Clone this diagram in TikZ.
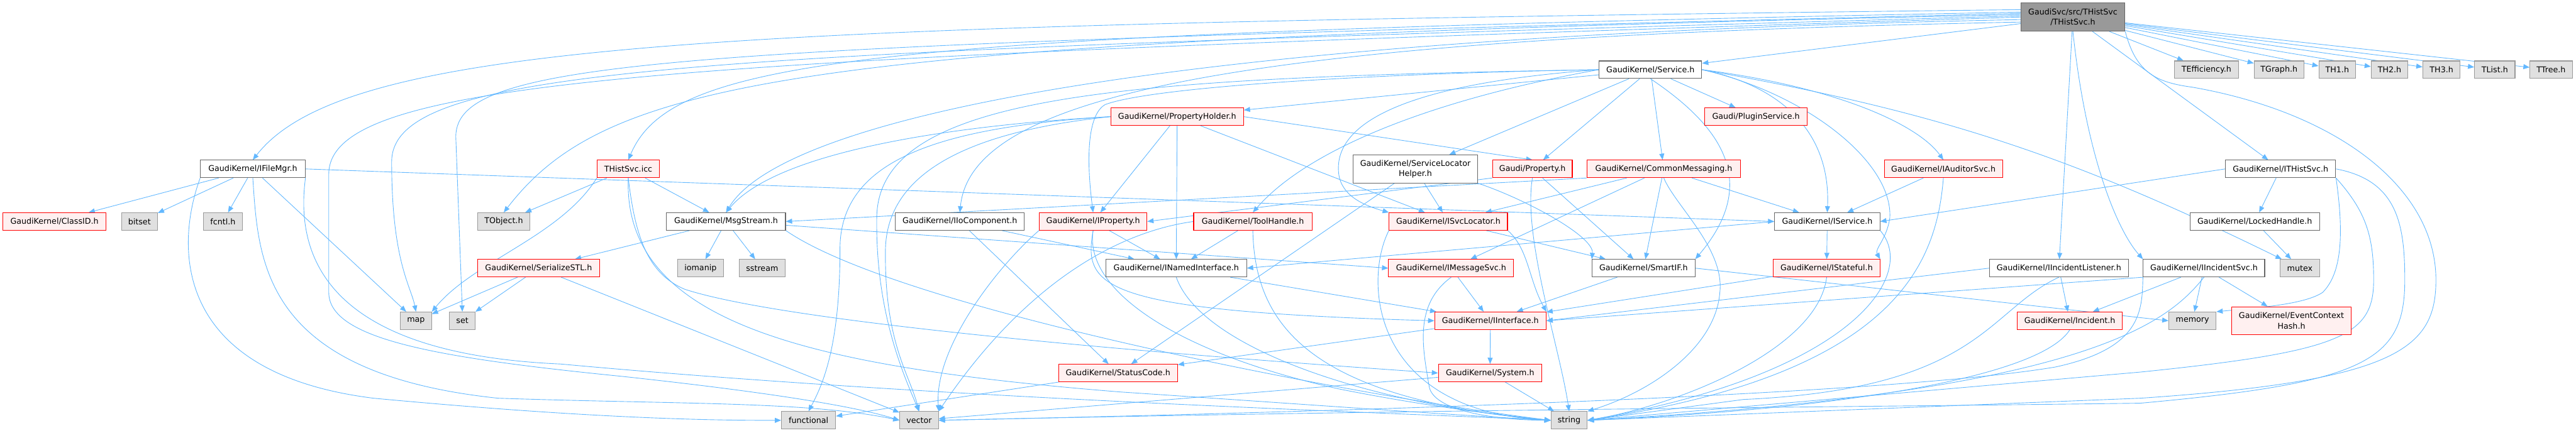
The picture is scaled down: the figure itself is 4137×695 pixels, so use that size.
\documentclass[tikz,border=0pt]{standalone}
\usepackage{fontspec}
\setmainfont{DejaVu Sans}
\usetikzlibrary{arrows.meta}
\definecolor{edgec}{HTML}{63B8FF}
\definecolor{redb}{HTML}{FF0000}
\definecolor{redf}{HTML}{FFF0F0}
\definecolor{grayf}{HTML}{E0E0E0}
\definecolor{grayb}{HTML}{999999}
\definecolor{normb}{HTML}{666666}
\pgfdeclarelayer{bg}
\pgfsetlayers{bg,main}
\tikzset{
  nd/.style={draw=normb, fill=white, line width=1.1pt, minimum height=28pt, inner sep=0pt, align=center, font=\fontsize{12.8}{16.7}\selectfont},
  rd/.style={nd, draw=redb, fill=redf},
  gd/.style={nd, draw=grayb, fill=grayf},
  rootnd/.style={nd, fill=grayb, draw=normb, minimum height=45pt},
  edg/.style={draw=edgec, line width=0.9pt, -{Triangle[length=10pt,width=8pt]}},
}
\begin{document}
\begin{tikzpicture}[x=1pt,y=-1pt]
\useasboundingbox (0,0) rectangle (4137,695);
% nodes
\node[rootnd, minimum width=167pt] (root) at (3329,27.5) {GaudiSvc/src/THistSvc\\/THistSvc.h};
\node[nd, minimum width=165pt] (svc) at (2650.5,112) {GaudiKernel/Service.h};
\node[gd, minimum width=103pt] (teff) at (3543.5,112) {TEfficiency.h};
\node[gd, minimum width=80pt] (tgraph) at (3660,112) {TGraph.h};
\node[gd, minimum width=59pt] (th1) at (3753.5,112) {TH1.h};
\node[gd, minimum width=59pt] (th2) at (3837.5,112) {TH2.h};
\node[gd, minimum width=60pt] (th3) at (3921,112) {TH3.h};
\node[gd, minimum width=65pt] (tlist) at (4006.5,112) {TList.h};
\node[gd, minimum width=68pt] (ttree) at (4097,112) {TTree.h};
\node[rd, minimum width=213pt] (ph) at (1890.5,187.5) {GaudiKernel/PropertyHolder.h};
\node[rd, minimum width=164pt] (plugin) at (2820,187.5) {Gaudi/PluginService.h};
\node[nd, minimum width=168pt] (ifm) at (406,271.5) {GaudiKernel/IFileMgr.h};
\node[rd, minimum width=100pt] (icc) at (1009,271.5) {THistSvc.icc};
\node[nd, minimum width=200pt, minimum height=45pt] (slh) at (2273,271.5) {GaudiKernel/ServiceLocator\\Helper.h};
\node[rd, minimum width=128pt] (gprop) at (2461,271.5) {Gaudi/Property.h};
\node[rd, minimum width=246pt] (cm) at (2672,271.5) {GaudiKernel/CommonMessaging.h};
\node[rd, minimum width=190pt] (aud) at (3121,271.5) {GaudiKernel/IAuditorSvc.h};
\node[nd, minimum width=177pt] (ith) at (3662.5,271.5) {GaudiKernel/ITHistSvc.h};
\node[rd, minimum width=166pt] (classid) at (87.5,356) {GaudiKernel/ClassID.h};
\node[gd, minimum width=58pt] (bitset) at (224,356) {bitset};
\node[gd, minimum width=63pt] (fcntl) at (358,356) {fcntl.h};
\node[gd, minimum width=84pt] (tobj) at (809,356) {TObject.h};
\node[nd, minimum width=191pt] (msg) at (1166,356) {GaudiKernel/MsgStream.h};
\node[nd, minimum width=207pt] (iio) at (1541.5,356) {GaudiKernel/IIoComponent.h};
\node[rd, minimum width=173pt] (iprop) at (1755.5,356) {GaudiKernel/IProperty.h};
\node[rd, minimum width=190pt] (tool) at (2012,356) {GaudiKernel/ToolHandle.h};
\node[rd, minimum width=190pt] (isl) at (2326,356) {GaudiKernel/ISvcLocator.h};
\node[nd, minimum width=169pt] (isvc) at (2934.5,356) {GaudiKernel/IService.h};
\node[nd, minimum width=208pt] (lock) at (3621,356) {GaudiKernel/LockedHandle.h};
\node[rd, minimum width=196pt] (ser) at (865,431) {GaudiKernel/SerializeSTL.h};
\node[gd, minimum width=74pt] (iomanip) at (1125,431) {iomanip};
\node[gd, minimum width=74pt] (sstream) at (1224,431) {sstream};
\node[nd, minimum width=226pt] (inamed) at (1889,431) {GaudiKernel/INamedInterface.h};
\node[rd, minimum width=201pt] (imsg) at (2330.5,431) {GaudiKernel/IMessageSvc.h};
\node[nd, minimum width=165pt] (smart) at (2639.5,431) {GaudiKernel/SmartIF.h};
\node[rd, minimum width=171pt] (istate) at (2933.5,431) {GaudiKernel/IStateful.h};
\node[nd, minimum width=223pt] (iil) at (3306.5,431) {GaudiKernel/IIncidentListener.h};
\node[nd, minimum width=195pt] (iis) at (3539.5,431) {GaudiKernel/IIncidentSvc.h};
\node[gd, minimum width=63pt] (mutex) at (3693.5,431) {mutex};
\node[gd, minimum width=50pt] (map) at (668,515.5) {map};
\node[gd, minimum width=41pt] (set) at (742.5,515.5) {set};
\node[rd, minimum width=179pt] (iint) at (2393.5,515.5) {GaudiKernel/IInterface.h};
\node[rd, minimum width=168pt] (inc) at (3324,515.5) {GaudiKernel/Incident.h};
\node[gd, minimum width=76pt] (memory) at (3521,515.5) {memory};
\node[rd, minimum width=192pt, minimum height=45pt] (ech) at (3680,515.5) {GaudiKernel/EventContext\\Hash.h};
\node[rd, minimum width=191pt] (status) at (1795.5,599.5) {GaudiKernel/StatusCode.h};
\node[rd, minimum width=166pt] (system) at (2393,599.5) {GaudiKernel/System.h};
\node[gd, minimum width=87pt] (functional) at (1298.5,675.5) {functional};
\node[gd, minimum width=62pt] (vector) at (1476,675.5) {vector};
\node[gd, minimum width=58pt] (string) at (2520,675.5) {string};

\begin{pgfonlayer}{bg}
% root
\draw[edg] ([yshift=12pt]root.west) .. controls (1200,40) and (560,60) .. (ifm.north);
\draw[edg] ([yshift=8pt]root.west) .. controls (1400,55) and (1080,90) .. (icc.north);
\draw[edg] ([yshift=4pt]root.west) .. controls (1300,65) and (980,120) .. (tobj.north);
\draw[edg] ([yshift=6pt]root.west) .. controls (1100,75) and (732,90) .. (732,220) -- (set.north);
\draw[edg] ([yshift=2pt]root.west) .. controls (1150,85) and (629,100) .. (629,260) .. controls (629,420) and (660,460) .. (map.north);
\draw[edg] (root.west) .. controls (1100,95) and (528,120) .. (528,280) -- (528,470) .. controls (528,545) and (700,575) .. (1000,605) .. controls (1250,632) and (1380,655) .. (vector.west);
\draw[edg] ([yshift=-4pt]root.west) .. controls (1800,60) and (1250,200) .. (msg.north);
\draw[edg] ([yshift=-8pt]root.west) .. controls (2000,60) and (1560,150) .. (iio.north);
\draw[edg] (root) -- (svc);
\draw[edg] (root) -- (teff);
\draw[edg] (root) -- (tgraph);
\draw[edg] (root) -- (th1);
\draw[edg] (root) -- (th2);
\draw[edg] (root) -- (th3);
\draw[edg] (root) -- (tlist);
\draw[edg] (root) -- (ttree);
\draw[edg] (root) -- (ith);
\draw[edg] (root) -- (iil);
\draw[edg] (root.south) .. controls (3350,250) and (3400,370) .. (iis.north west);
\draw[edg] (root.south east) .. controls (3430,115) and (3460,132) .. (3520,140) .. controls (3750,180) and (3912,300) .. (3912,450) .. controls (3912,560) and (3850,612) .. (3437,640) -- (string.east);
% Service
\draw[edg] (svc) -- (ph);
\draw[edg] (svc) -- (plugin);
\draw[edg] (svc) -- (slh);
\draw[edg] (svc) -- (gprop);
\draw[edg] (svc) -- (cm);
\draw[edg] (svc.east) .. controls (2950,140) and (3080,200) .. (aud.north);
\draw[edg] (svc.east) .. controls (2870,140) and (2940,220) .. (isvc.north);
\draw[edg] (svc.east) .. controls (2900,150) and (3040,260) .. (3035,350) .. controls (3030,385) and (3010,400) .. (istate.north east);
\draw[edg] (svc.east) to[bend left=8] (mutex);
\draw[edg] (svc.south) .. controls (2760,200) and (2830,290) .. (smart.north east);
\draw[edg] (svc.west) .. controls (2250,135) and (2140,200) .. (2150,280) .. controls (2155,315) and (2190,330) .. (isl.north west);
\draw[edg] (svc.west) .. controls (2200,118) and (1850,140) .. (1775,168) .. controls (1745,185) and (1745,260) .. (iprop.north);
\draw[edg] (svc.west) .. controls (2300,160) and (2100,240) .. (tool.north);
\draw[edg] (svc.west) .. controls (1800,125) and (1410,150) .. (1408,350) .. controls (1406,500) and (1450,600) .. (vector.north);
% PropertyHolder
\draw[edg] (ph) -- (iprop);
\draw[edg] (ph) -- (inamed);
\draw[edg] (ph.east) -- (gprop.north);
\draw[edg] (ph) -- (isl);
\draw[edg] (ph.west) .. controls (1550,200) and (1250,240) .. (msg.north);
\draw[edg] (ph.west) .. controls (1500,205) and (1349,260) .. (1349,400) .. controls (1349,560) and (1320,620) .. (functional.north);
\draw[edg] (ph.west) .. controls (1550,212) and (1425,280) .. (1422,400) .. controls (1420,550) and (1460,600) .. (vector.north);
% ServiceLocatorHelper
\draw[edg] (slh) -- (isl);
\draw[edg] (slh) -- (status);
\draw[edg] (slh.south east) .. controls (2450,320) and (2560,380) .. (smart.north west);
% Gaudi/Property
\draw[edg] (gprop.south west) -- (iprop.east);
\draw[edg] (gprop) -- (smart);
\draw[edg] (gprop.south) .. controls (2445,380) and (2505,560) .. (string.north);
% CommonMessaging
\draw[edg] (cm) -- (isl);
\draw[edg] (cm.south west) -- (msg.east);
\draw[edg] (cm) -- (imsg);
\draw[edg] (cm) -- (smart);
\draw[edg] (cm) -- (isvc);
\draw[edg] (cm.south) .. controls (2690,330) and (2770,400) .. (2762,470) .. controls (2755,560) and (2650,630) .. (string.north east);
% IAuditorSvc
\draw[edg] (aud) -- (isvc);
\draw[edg] (aud.south) .. controls (3110,420) and (3050,600) .. (string.east);
% ITHistSvc
\draw[edg] (ith.west) -- (isvc.east);
\draw[edg] (ith) -- (lock);
\draw[edg] (ith.south east) .. controls (3765,380) and (3760,440) .. (3730,470) .. controls (3700,490) and (3620,495) .. (memory.north east);
\draw[edg] (ith.south east) .. controls (3800,340) and (3812,380) .. (3812,450) .. controls (3812,540) and (3760,565) .. (3437,598) -- (string.east);
\draw[edg] (ith.east) .. controls (3850,290) and (3862,360) .. (3862,450) .. controls (3862,580) and (3800,615) .. (3437,648) .. controls (2900,655) and (2300,658) .. (vector.east);
\draw[edg] (lock) -- (mutex);
% IService
\draw[edg] (isvc) -- (istate);
\draw[edg] (isvc.west) -- (inamed.east);
\draw[edg] (isvc.south east) .. controls (3080,440) and (2980,600) .. (string.east);
% IStateful
\draw[edg] (istate) -- (iint);
\draw[edg] (istate.south) .. controls (2920,560) and (2700,650) .. (string.east);
% SmartIF
\draw[edg] (smart) -- (iint);
\draw[edg] (smart.east) -- (memory.west);
% IMessageSvc
\draw[edg] (imsg) -- (iint);
\draw[edg] (imsg.south) .. controls (2270,490) and (2285,560) .. (2295,620) .. controls (2300,660) and (2400,675) .. (string.west);
% ISvcLocator
\draw[edg] (isl.south east) .. controls (2455,400) and (2455,450) .. (iint.north east);
\draw[edg] (isl) -- (smart);
\draw[edg] (isl.south west) .. controls (2190,450) and (2200,660) .. (string.west);
% INamedInterface
\draw[edg] (inamed) -- (iint);
\draw[edg] (inamed.south) .. controls (1930,560) and (2200,650) .. (string.west);
% IProperty
\draw[edg] (iprop) -- (inamed);
\draw[edg] (iprop.south west) .. controls (1600,430) and (1500,560) .. (vector.north east);
\draw[edg] (iprop.south) .. controls (1740,470) and (1900,570) .. (2150,625) .. controls (2300,655) and (2420,668) .. (string.west);
\draw[edg] (iprop.south) .. controls (1740,460) and (1760,500) .. (iint.west);
% IIoComponent
\draw[edg] (iio) -- (inamed);
\draw[edg] (iio) -- (status);
% ToolHandle
\draw[edg] (tool) -- (inamed);
\draw[edg] (tool.west) .. controls (1800,372) and (1650,450) .. (vector.north east);
\draw[edg] (tool.south) .. controls (2015,520) and (2100,640) .. (string.west);
% MsgStream
\draw[edg] (msg) -- (ser);
\draw[edg] (msg) -- (iomanip);
\draw[edg] (msg) -- (sstream);
\draw[edg] ([yshift=-6pt]msg.east) -- (imsg.west);
\draw[edg] (msg.south east) .. controls (1450,500) and (2200,640) .. (string.west);
% SerializeSTL
\draw[edg] (ser) -- (map);
\draw[edg] (ser) -- (set);
\draw[edg] (ser) -- (vector);
% THistSvc.icc
\draw[edg] (icc) -- (tobj);
\draw[edg] (icc) -- (msg);
\draw[edg] (icc.south west) .. controls (900,380) and (760,420) .. (map.north east);
\draw[edg] (icc.south) .. controls (1020,380) and (1040,440) .. (1100,465) .. controls (1300,530) and (2100,585) .. (system.west);
\draw[edg] (icc.south) .. controls (1000,520) and (1300,590) .. (1800,630) .. controls (2100,650) and (2300,665) .. (string.west);
% IFileMgr
\draw[edg] (ifm) -- (classid);
\draw[edg] (ifm) -- (bitset);
\draw[edg] (ifm) -- (fcntl);
\draw[edg] (ifm) -- (map);
\draw[edg] (ifm.east) -- (isvc.west);
\draw[edg] (ifm.south west) .. controls (280,400) and (280,600) .. (600,640) .. controls (900,668) and (1100,676) .. (functional.west);
\draw[edg] (ifm.south) .. controls (415,420) and (420,600) .. (800,640) .. controls (1100,650) and (1300,645) .. (vector.west);
\draw[edg] (ifm.south east) .. controls (470,440) and (560,570) .. (900,585) .. controls (1500,640) and (2200,662) .. (string.west);
% IInterface, System, StatusCode
\draw[edg] (iint) -- (system);
\draw[edg] (iint) -- (status);
\draw[edg] (system) -- (string);
\draw[edg] (system) -- (vector);
\draw[edg] (status) -- (functional);
% IIncidentListener
\draw[edg] (iil.west) -- (iint.east);
\draw[edg] (iil) -- (inc);
\draw[edg] (iil.south) .. controls (3190,500) and (3180,625) .. (2800,642) -- (string.east);
\draw[edg] (inc.south) .. controls (3280,600) and (3000,655) .. (string.east);
% IIncidentSvc
\draw[edg] (iis) -- (inc);
\draw[edg] (iis) -- (memory);
\draw[edg] (iis) -- (ech);
\draw[edg] (iis.south west) -- (iint.east);
\draw[edg] (iis.south) .. controls (3480,520) and (3350,630) .. (string.east);
\draw[edg] (iis.south west) .. controls (3440,500) and (3440,560) .. (3300,590) .. controls (3000,640) and (2000,665) .. (vector.east);
\end{pgfonlayer}
\end{tikzpicture}
\end{document}
